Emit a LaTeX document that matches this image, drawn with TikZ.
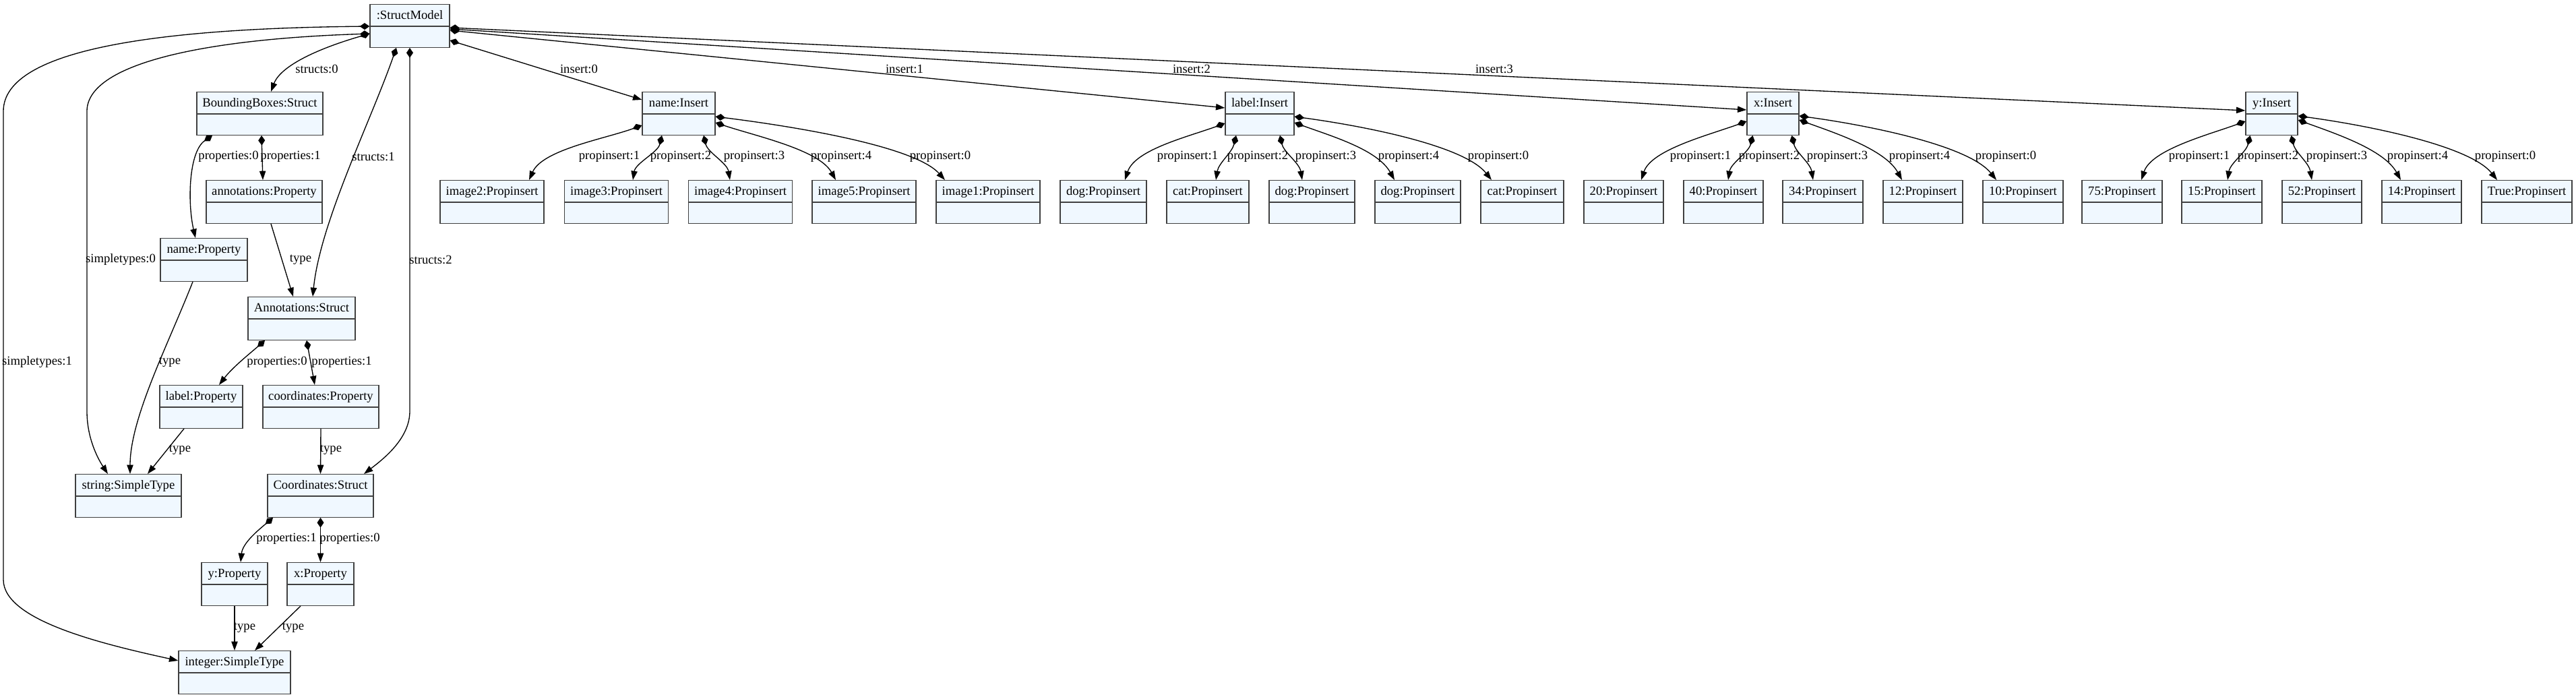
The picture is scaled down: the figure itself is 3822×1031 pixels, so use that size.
\documentclass[tikz,border=0pt]{standalone}
\usepackage{fontspec}
\setmainfont{Liberation Serif}
\usetikzlibrary{shapes.multipart,arrows.meta,calc}
\definecolor{boxfill}{HTML}{F0F8FF}
\definecolor{boxdraw}{HTML}{404040}
\newcommand{\umltitle}[1]{\rule[-7.5pt]{0pt}{23.25pt}#1\nodepart{two}\rule{0pt}{22.5pt}}
\tikzset{
  umlbox/.style={rectangle split, rectangle split parts=2, draw=boxdraw, fill=boxfill,
    line width=1pt, inner xsep=0pt, inner ysep=0pt, anchor=north,
    font=\fontsize{14pt}{16pt}\selectfont,
    /utils/exec={\pgfmathsetlengthmacro\umlboxw{#1*0.75pt}},
    text width=\umlboxw, align=center},
  elabel/.style={inner sep=0pt, font=\fontsize{14pt}{16pt}\selectfont},
  comp/.style={line width=1pt, {Diamond[length=11pt,width=7.5pt]}-{Triangle[length=10pt,width=7pt]}},
  assoc/.style={line width=1pt, -{Triangle[length=10pt,width=7pt]}},
}
\begin{document}
\begin{tikzpicture}[x=0.75pt,y=-0.75pt]
\useasboundingbox[fill=white] (0,0) rectangle (3822,1031);
% ---- left tree ----
\node[umlbox=118] (sm) at (608,6) {\umltitle{:StructModel}};
\node[umlbox=187] (bb) at (385.5,136) {\umltitle{BoundingBoxes:Struct}};
\node[umlbox=172] (ap) at (392,267) {\umltitle{annotations:Property}};
\node[umlbox=129] (np) at (302.5,353) {\umltitle{name:Property}};
\node[umlbox=159] (as) at (447.5,440) {\umltitle{Annotations:Struct}};
\node[umlbox=123] (lp) at (298.5,571) {\umltitle{label:Property}};
\node[umlbox=172] (cp) at (476,571) {\umltitle{coordinates:Property}};
\node[umlbox=157] (st) at (190.5,703) {\umltitle{string:SimpleType}};
\node[umlbox=157] (cs) at (475.5,703) {\umltitle{Coordinates:Struct}};
\node[umlbox=98] (yp) at (348,834) {\umltitle{y:Property}};
\node[umlbox=99] (xp) at (475.5,834) {\umltitle{x:Property}};
\node[umlbox=166] (it) at (348,965) {\umltitle{integer:SimpleType}};
% ---- inserts ----
\node[umlbox=108] (ni) at (1007,136) {\umltitle{name:Insert}};
\node[umlbox=102] (li) at (1869,136) {\umltitle{label:Insert}};
\node[umlbox=77] (xi) at (2630.5,136) {\umltitle{x:Insert}};
\node[umlbox=77] (yi) at (3370.5,136) {\umltitle{y:Insert}};
% ---- propinserts ----
\node[umlbox=154] (n1) at (730,267) {\umltitle{image2:Propinsert}};
\node[umlbox=154] (n2) at (914.5,267) {\umltitle{image3:Propinsert}};
\node[umlbox=154] (n3) at (1098.5,267) {\umltitle{image4:Propinsert}};
\node[umlbox=154] (n4) at (1282,267) {\umltitle{image5:Propinsert}};
\node[umlbox=154] (n5) at (1466,267) {\umltitle{image1:Propinsert}};
\node[umlbox=128] (l1) at (1637,267) {\umltitle{dog:Propinsert}};
\node[umlbox=122] (l2) at (1792,267) {\umltitle{cat:Propinsert}};
\node[umlbox=127] (l3) at (1946.5,267) {\umltitle{dog:Propinsert}};
\node[umlbox=127] (l4) at (2103.5,267) {\umltitle{dog:Propinsert}};
\node[umlbox=123] (l5) at (2258.5,267) {\umltitle{cat:Propinsert}};
\node[umlbox=118] (x1) at (2409,267) {\umltitle{20:Propinsert}};
\node[umlbox=118] (x2) at (2557,267) {\umltitle{40:Propinsert}};
\node[umlbox=119] (x3) at (2704.5,267) {\umltitle{34:Propinsert}};
\node[umlbox=118] (x4) at (2853,267) {\umltitle{12:Propinsert}};
\node[umlbox=119] (x5) at (3001.5,267) {\umltitle{10:Propinsert}};
\node[umlbox=119] (y1) at (3148.5,267) {\umltitle{75:Propinsert}};
\node[umlbox=119] (y2) at (3296.5,267) {\umltitle{15:Propinsert}};
\node[umlbox=118] (y3) at (3445,267) {\umltitle{52:Propinsert}};
\node[umlbox=118] (y4) at (3593,267) {\umltitle{14:Propinsert}};
\node[umlbox=134] (y5) at (3749,267) {\umltitle{True:Propinsert}};
% ---- edges of the left tree ----
\draw[comp] ($(sm.north west)+(0,44)$) .. controls +(-70,20) and +(15,-40) .. ($(bb.north)+(16.5,0)$);
\draw[comp] ($(sm.north west)+(0,33)$) .. controls (250,42) and (5,70) .. (5,165) -- (5,860)
  .. controls (5,920) and (150,955) .. ($(it.north west)+(0,15)$);
\draw[comp] ($(sm.north west)+(0,44)$) .. controls (300,58) and (129,95) .. (129,165) -- (129,610)
  .. controls (129,650) and (145,680) .. ($(st.north)+(-30.5,0)$);
\draw[comp] ($(sm.south)+(-20,0)$) .. controls (550,180) and (475,330) .. ($(as.north)+(16.5,0)$);
\draw[comp] (sm.south) -- (608,610) .. controls (608,650) and (570,680) .. ($(cs.north)+(64.5,0)$);
\draw[comp] ($(bb.south)+(-70.5,0)$) .. controls (280,225) and (278,300) .. ($(np.north)+(-12.5,0)$);
\draw[comp] ($(bb.south)+(2.5,0)$) -- ($(ap.north)+(-2,0)$);
\draw[assoc] ($(ap.south)+(10,0)$) -- ($(as.north)+(-12.5,0)$);
\draw[assoc] ($(np.south)+(-16.5,0)$) .. controls (250,510) and (193,620) .. ($(st.north)+(2.5,0)$);
\draw[comp] ($(as.south)+(-54.5,0)$) .. controls (370,525) and (345,545) .. ($(lp.north)+(26.5,0)$);
\draw[comp] ($(as.south)+(7.5,0)$) -- ($(cp.north)+(-9,0)$);
\draw[assoc] ($(lp.south)+(-25.5,0)$) -- ($(st.north)+(28.5,0)$);
\draw[assoc] (cp.south) -- (cs.north);
\draw[comp] ($(cs.south)+(-70.5,0)$) .. controls (385,785) and (360,805) .. ($(yp.north)+(9,0)$);
\draw[comp] (cs.south) -- (xp.north);
\draw[assoc] (yp.south) -- (it.north);
\draw[assoc] ($(xp.south)+(-29.5,0)$) -- ($(it.north)+(30,0)$);
% ---- insert edges ----
\draw[comp] ($(sm.north east)+(0,54)$) -- ($(ni.north west)+(0,12)$);
\draw[comp] ($(sm.north east)+(0,39)$) -- ($(li.north west)+(0,24)$);
\draw[comp] ($(sm.north east)+(0,37)$) -- ($(xi.north west)+(0,27)$);
\draw[comp] ($(sm.north east)+(0,35)$) -- ($(yi.north west)+(0,28)$);
% ---- propinsert edges: name ----
\draw[comp] ($(ni.north west)+(0,50)$) .. controls +(-55,20) and +(20,-45) .. ($(n1.north)+(55,0)$);
\draw[comp] ($(ni.south)+(-25,0)$) .. controls +(-6,25) and +(4,-25) .. ($(n2.north)+(24.5,0)$);
\draw[comp] ($(ni.south)+(37,0)$) .. controls +(6,25) and +(-4,-25) .. ($(n3.north)+(-15.5,0)$);
\draw[comp] ($(ni.north east)+(0,46)$) .. controls +(60,20) and +(-25,-45) .. ($(n4.north)+(-42,0)$);
\draw[comp] ($(ni.north east)+(0,37)$) .. controls +(120,15) and +(-45,-50) .. ($(n5.north)+(-64,0)$);
% ---- label ----
\draw[comp] ($(li.north west)+(0,47)$) .. controls +(-55,20) and +(15,-45) .. ($(l1.north)+(32,0)$);
\draw[comp] ($(li.south)+(-35,0)$) .. controls +(-6,25) and +(4,-25) .. ($(l2.north)+(12,0)$);
\draw[comp] ($(li.south)+(30,0)$) .. controls +(6,25) and +(-4,-25) .. ($(l3.north)+(-14.5,0)$);
\draw[comp] ($(li.north east)+(0,46)$) .. controls +(55,20) and +(-25,-45) .. ($(l4.north)+(-34.5,0)$);
\draw[comp] ($(li.north east)+(0,37)$) .. controls +(110,15) and +(-40,-50) .. ($(l5.north)+(-45.5,0)$);
% ---- x ----
\draw[comp] ($(xi.north west)+(0,44)$) .. controls +(-55,20) and +(15,-45) .. ($(x1.north)+(26,0)$);
\draw[comp] ($(xi.south)+(-30,0)$) .. controls +(-6,25) and +(4,-25) .. ($(x2.north)+(7,0)$);
\draw[comp] ($(xi.south)+(28,0)$) .. controls +(6,25) and +(-4,-25) .. ($(x3.north)+(-14.5,0)$);
\draw[comp] ($(xi.north east)+(0,42)$) .. controls +(55,20) and +(-25,-45) .. ($(x4.north)+(-31,0)$);
\draw[comp] ($(xi.north east)+(0,36)$) .. controls +(110,15) and +(-40,-50) .. ($(x5.north)+(-39.5,0)$);
% ---- y ----
\draw[comp] ($(yi.north west)+(0,44)$) .. controls +(-55,20) and +(15,-45) .. ($(y1.north)+(28.5,0)$);
\draw[comp] ($(yi.south)+(-32,0)$) .. controls +(-6,25) and +(4,-25) .. ($(y2.north)+(8.5,0)$);
\draw[comp] ($(yi.south)+(29,0)$) .. controls +(6,25) and +(-4,-25) .. ($(y3.north)+(-15,0)$);
\draw[comp] ($(yi.north east)+(0,42)$) .. controls +(55,20) and +(-25,-45) .. ($(y4.north)+(-31,0)$);
\draw[comp] ($(yi.north east)+(0,36)$) .. controls +(110,15) and +(-40,-50) .. ($(y5.north)+(-44,0)$);
% ---- edge labels ----
\node[elabel] (e1) at (470,102) {structs:0};
\node[elabel] (e2) at (554,232) {structs:1};
\node[elabel] (e3) at (639,385) {structs:2};
\node[elabel] (e4) at (179,385) {simpletypes:0};
\node[elabel] (e5) at (55,537) {simpletypes:1};
\node[elabel] (e6) at (339,232) {properties:0};
\node[elabel] (e7) at (431,232) {properties:1};
\node[elabel] (e8) at (446,385) {type};
\node[elabel] (e9) at (252,537) {type};
\node[elabel] (e10) at (411,537) {properties:0};
\node[elabel] (e11) at (507,537) {properties:1};
\node[elabel] (e12) at (267,667) {type};
\node[elabel] (e13) at (491,667) {type};
\node[elabel] (e14) at (425,799) {properties:1};
\node[elabel] (e15) at (519,799) {properties:0};
\node[elabel] (e16) at (363,931) {type};
\node[elabel] (e17) at (435,931) {type};
\node[elabel] (i0) at (859,102) {insert:0};
\node[elabel] (i1) at (1342,102) {insert:1};
\node[elabel] (i2) at (1768,102) {insert:2};
\node[elabel] (i3) at (2217,102) {insert:3};
\node[elabel] (pn1) at (904,232) {propinsert:1};
\node[elabel] (pn2) at (1010,232) {propinsert:2};
\node[elabel] (pn3) at (1119,232) {propinsert:3};
\node[elabel] (pn4) at (1248,232) {propinsert:4};
\node[elabel] (pn0) at (1395,232) {propinsert:0};
\node[elabel] (pl1) at (1762,232) {propinsert:1};
\node[elabel] (pl2) at (1866,232) {propinsert:2};
\node[elabel] (pl3) at (1967,232) {propinsert:3};
\node[elabel] (pl4) at (2090,232) {propinsert:4};
\node[elabel] (pl0) at (2223,232) {propinsert:0};
\node[elabel] (px1) at (2523,232) {propinsert:1};
\node[elabel] (px2) at (2625,232) {propinsert:2};
\node[elabel] (px3) at (2726,232) {propinsert:3};
\node[elabel] (px4) at (2848,232) {propinsert:4};
\node[elabel] (px0) at (2976,232) {propinsert:0};
\node[elabel] (py1) at (3263,232) {propinsert:1};
\node[elabel] (py2) at (3365,232) {propinsert:2};
\node[elabel] (py3) at (3467,232) {propinsert:3};
\node[elabel] (py4) at (3587,232) {propinsert:4};
\node[elabel] (py0) at (3717,232) {propinsert:0};
\end{tikzpicture}
\end{document}
